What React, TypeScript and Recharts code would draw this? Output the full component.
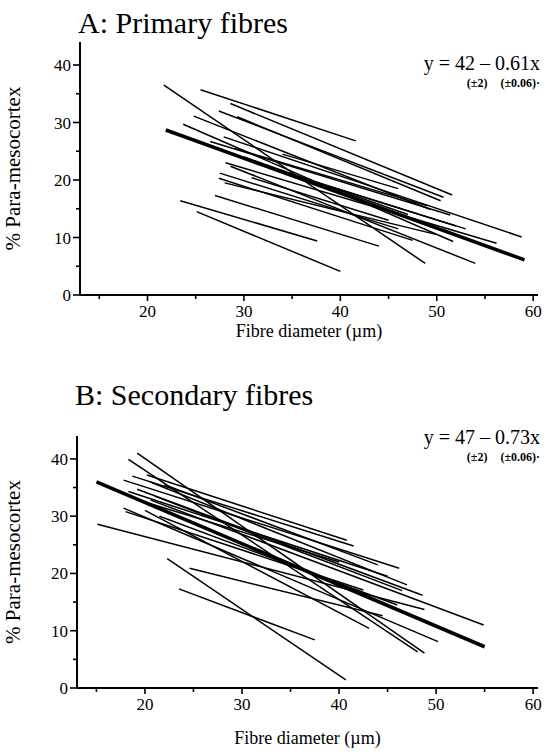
import React from "react";
import { LineChart, Line, XAxis, YAxis, Label } from "recharts";

// each fibre: [x start, y start, x end, y end]  (diameter µm, % para-mesocortex)
const primaryFibres = [
  [21.7, 36.5, 48.8, 5.5],
  [25.5, 35.7, 41.6, 26.8],
  [28.6, 33.3, 51.6, 17.4],
  [27.4, 32.0, 50.7, 17.0],
  [29.3, 31.0, 50.4, 16.4],
  [24.8, 31.1, 49.3, 14.9],
  [23.7, 29.7, 51.7, 9.3],
  [27.9, 27.5, 58.8, 10.1],
  [26.5, 26.7, 51.4, 13.9],
  [28.1, 23.0, 56.2, 9.0],
  [28.6, 22.4, 54.0, 5.5],
  [27.5, 21.2, 46.0, 11.5],
  [27.4, 20.3, 47.5, 9.5],
  [30.8, 20.4, 45.0, 13.0],
  [27.0, 17.3, 44.0, 8.5],
  [23.4, 16.4, 37.6, 9.4],
  [25.1, 14.5, 40.0, 4.1],
  [30.0, 24.0, 47.0, 14.0],
  [33.0, 22.0, 52.0, 12.0],
  [29.0, 25.5, 49.0, 15.5],
  [31.0, 23.0, 53.0, 11.5],
  [28.0, 19.5, 50.0, 10.5],
  [34.0, 24.5, 46.0, 18.5],
];
const primaryFit = [21.9, 28.7, 59.1, 6.1];

const secondaryFibres = [
  [19.2, 41.0, 48.8, 6.1],
  [18.3, 39.9, 48.1, 6.3],
  [20.2, 37.2, 40.8, 25.8],
  [18.7, 37.0, 41.5, 24.8],
  [17.8, 36.3, 46.2, 20.9],
  [19.2, 34.7, 48.6, 16.2],
  [18.3, 34.3, 45.0, 19.5],
  [20.6, 32.8, 54.9, 11.0],
  [17.8, 31.4, 50.2, 8.1],
  [18.0, 30.8, 42.5, 17.1],
  [20.0, 31.0, 43.1, 10.4],
  [15.1, 28.6, 48.8, 13.7],
  [22.3, 22.6, 40.7, 1.4],
  [23.5, 17.3, 37.5, 8.4],
  [24.6, 20.9, 44.5, 12.6],
  [21.0, 33.5, 46.5, 17.0],
  [22.0, 35.5, 44.0, 21.5],
  [20.5, 36.0, 47.0, 18.0],
  [21.5, 30.0, 46.0, 14.5],
  [19.0, 33.0, 40.0, 22.0],
];
const secondaryFit = [15.0, 36.0, 55.0, 7.2];

const xTicks = [15, 20, 25, 30, 35, 40, 45, 50, 55, 60];
const yTicks = [0, 5, 10, 15, 20, 25, 30, 35, 40];

const FONT = "'Liberation Serif', 'Times New Roman', serif";

const toPoints = (s: number[]) => [
  { x: s[0], y: s[1] },
  { x: s[2], y: s[3] },
];

const XTick = (props: any) => {
  const { x, y, payload } = props;
  const major = payload.value % 10 === 0;
  return (
    <g>
      <line x1={x} y1={y} x2={x} y2={y + (major ? 6 : 4)} stroke="#000" strokeWidth={1.6} />
      {major && (
        <text x={x} y={y + 22} textAnchor="middle" fontSize={17} fontFamily={FONT} fill="#000">
          {payload.value}
        </text>
      )}
    </g>
  );
};

const YTick = (props: any) => {
  const { x, y, payload } = props;
  const major = payload.value % 10 === 0;
  return (
    <g>
      <line x1={x} y1={y} x2={x - (major ? 7 : 4)} y2={y} stroke="#000" strokeWidth={1.6} />
      {major && (
        <text x={x - 9} y={y + 6} textAnchor="end" fontSize={17} fontFamily={FONT} fill="#000">
          {payload.value}
        </text>
      )}
    </g>
  );
};

type PanelProps = {
  top: number;
  height: number;
  plotTop: number;
  plotLeft: number;
  plotHeight: number;
  fibres: number[][];
  fit: number[];
  title: string;
  equation: string;
  titleTop: number;
  eqTop: number;
};

const Panel = (p: PanelProps) => (
  <div style={{ position: "absolute", left: 0, top: p.top, width: 553, height: p.height }}>
    <LineChart
      width={553}
      height={p.height}
      margin={{ top: p.plotTop, right: 15, left: 0, bottom: 0 }}
    >
      <XAxis
        type="number"
        dataKey="x"
        domain={[13, 60.5]}
        ticks={xTicks}
        allowDataOverflow
        height={p.height - p.plotTop - p.plotHeight}
        tickSize={0}
        tickMargin={0}
        tick={<XTick />}
        axisLine={{ stroke: "#000", strokeWidth: 2 }}
      >
        <Label
          value="Fibre diameter (µm)"
          position="insideBottom"
          offset={8}
          style={{ fontSize: 18, fontFamily: FONT, fill: "#000" }}
        />
      </XAxis>
      <YAxis
        type="number"
        domain={[0, 44]}
        ticks={yTicks}
        allowDataOverflow
        width={p.plotLeft}
        tickSize={0}
        tickMargin={0}
        tick={<YTick />}
        axisLine={{ stroke: "#000", strokeWidth: 2 }}
      >
        <Label
          value="% Para-mesocortex"
          angle={-90}
          position="insideLeft"
          offset={13}
          style={{ fontSize: 21, fontFamily: FONT, fill: "#000", textAnchor: "middle" }}
        />
      </YAxis>
      {p.fibres.map((s, i) => (
        <Line
          key={i}
          data={toPoints(s)}
          dataKey="y"
          type="linear"
          stroke="#000"
          strokeWidth={1.5}
          dot={false}
          activeDot={false}
          isAnimationActive={false}
        />
      ))}
      <Line
        data={toPoints(p.fit)}
        dataKey="y"
        type="linear"
        stroke="#000"
        strokeWidth={3.6}
        dot={false}
        activeDot={false}
        isAnimationActive={false}
      />
    </LineChart>
    <div
      style={{
        position: "absolute",
        left: p.plotLeft - 2,
        top: p.titleTop,
        fontFamily: FONT,
        fontSize: 30,
        lineHeight: 1,
        whiteSpace: "nowrap",
      }}
    >
      {p.title}
    </div>
    <div
      style={{
        position: "absolute",
        right: 13,
        top: p.eqTop,
        fontFamily: FONT,
        fontSize: 20,
        lineHeight: 1,
        whiteSpace: "nowrap",
        textAlign: "right",
      }}
    >
      {p.equation}
      <div style={{ fontSize: 12, fontWeight: "bold", marginTop: 4, wordSpacing: 10 }}>
        (±2) (±0.06)·
      </div>
    </div>
  </div>
);

export default function App() {
  return (
    <div style={{ position: "absolute", left: 0, top: 0, width: 553, height: 752, background: "#fff" }}>
      <Panel
        top={0}
        height={345}
        plotTop={42}
        plotLeft={80}
        plotHeight={253}
        fibres={primaryFibres}
        fit={primaryFit}
        title="A: Primary fibres"
        equation="y = 42 – 0.61x"
        titleTop={8}
        eqTop={53}
      />
      <Panel
        top={380}
        height={372}
        plotTop={56}
        plotLeft={77}
        plotHeight={252}
        fibres={secondaryFibres}
        fit={secondaryFit}
        title="B: Secondary fibres"
        equation="y = 47 – 0.73x"
        titleTop={0}
        eqTop={47}
      />
    </div>
  );
}
